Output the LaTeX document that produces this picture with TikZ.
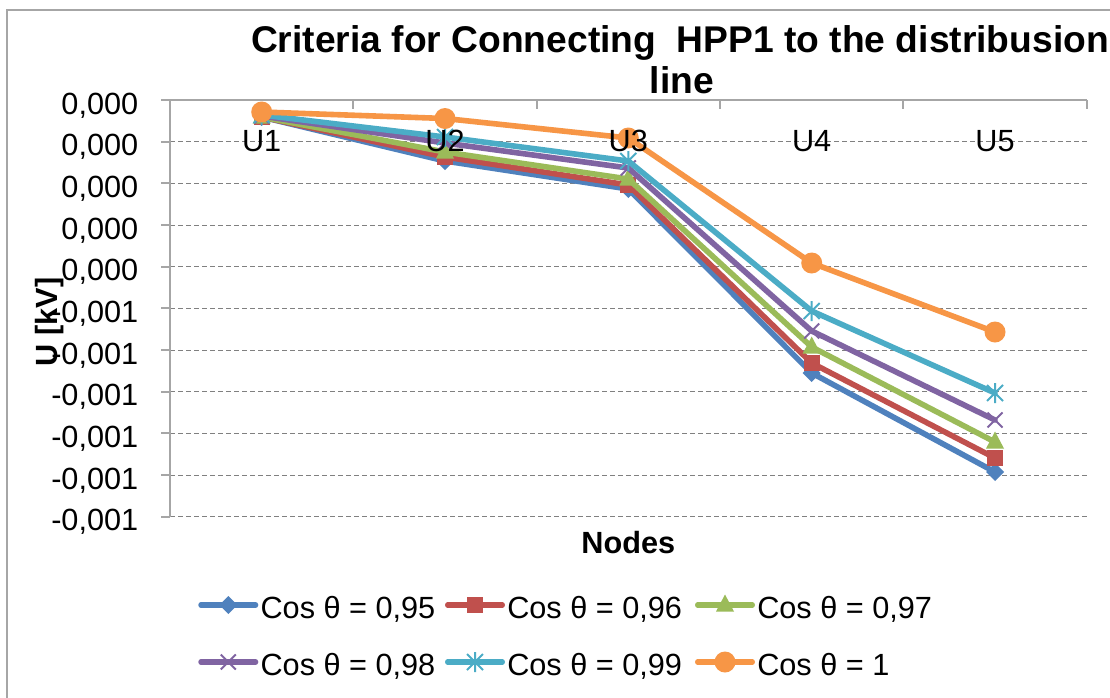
\documentclass[tikz,border=0pt]{standalone}
\usepackage{fontspec}
\setmainfont{Liberation Sans}
\definecolor{cA}{HTML}{4F81BD}
\definecolor{cB}{HTML}{C0504D}
\definecolor{cC}{HTML}{9BBB59}
\definecolor{cD}{HTML}{8064A2}
\definecolor{cE}{HTML}{4BACC6}
\definecolor{cF}{HTML}{F79646}
\definecolor{axisgray}{HTML}{A6A6A6}
\definecolor{gridgray}{HTML}{808080}
\tikzset{
  frame/.style={draw=axisgray, line width=1.5pt},
  axisline/.style={draw=axisgray, line width=1.5pt},
  gridline/.style={draw=gridgray, line width=0.75pt, dash pattern=on 4pt off 2pt},
  ticklab/.style={font=\fontsize{23}{27}\selectfont, inner sep=0pt},
  axtitle/.style={font=\fontsize{23}{27}\selectfont\bfseries, inner sep=0pt},
  titlef/.style={font=\fontsize{27.9}{33}\selectfont\bfseries, inner sep=0pt},
  ser/.style={line width=4.2pt, line join=round, line cap=round},
  legline/.style={line width=4pt, line cap=round},
  mdia/.pic={\fill[cA] (0,-9)--(9,0)--(0,9)--(-9,0)--cycle;},
  msq/.pic={\fill[cB] (-8,-8) rectangle (8,8);},
  mtri/.pic={\fill[cC] (0,-10.5)--(9,6.5)--(-9,6.5)--cycle;},
  mx/.pic={\draw[cD, line width=1.5pt] (-7.5,-7.5)--(7.5,7.5) (-7.5,7.5)--(7.5,-7.5);},
  mast/.pic={\draw[cE, line width=1.5pt] (-8,-8)--(8,8) (-8,8)--(8,-8) (0,-10)--(0,10);},
  mcirc/.pic={\fill[cF] (0,0) circle[radius=10.5];}
}
\begin{document}
\begin{tikzpicture}[x=0.75pt,y=-0.75pt]
\useasboundingbox (0,0) rectangle (1110,697);
\clip (0,0) rectangle (1110,697);
\path[fill=white] (0,0) rectangle (1110,697);
\draw[frame] (7,10) rectangle (1140,720);

% title
\node[titlef, anchor=base] (t1) at (680,52) {Criteria for Connecting\ \ HPP1 to the distribusion};
\node[titlef, anchor=base] (t2) at (682,93.3) {line};

% gridlines
\foreach \i in {1,...,10}
  \draw[gridline] (170,{100+41.667*\i}) -- (1086.7,{100+41.667*\i});

% axes
\draw[axisline] (170,516.7) -- (170,100) -- (1086.7,100);
\foreach \i in {0,...,10}
  \draw[axisline] (161,{100+41.667*\i}) -- (170,{100+41.667*\i});
\foreach \x in {353.3,536.7,720,903.3,1086.7}
  \draw[axisline] (\x,100) -- (\x,109);

% y tick labels
\foreach \i/\t in {0/{0,000},1/{0,000},2/{0,000},3/{0,000},4/{0,000},5/{-0,001},6/{-0,001},7/{-0,001},8/{-0,001},9/{-0,001},10/{-0,001}}
  \node[ticklab, anchor=base east] (yl\i) at (138.5,{114+41.667*\i}) {\t};

% data coordinates
\foreach \n/\x in {1/261.7,2/445,3/628.3,4/811.7,5/995}{
  \coordinate (xpos\n) at (\x,0);
}
\coordinate (a1) at (261.7,117); \coordinate (a2) at (445,161); \coordinate (a3) at (628.3,189); \coordinate (a4) at (811.7,373); \coordinate (a5) at (995,472);
\coordinate (b1) at (261.7,117); \coordinate (b2) at (445,157); \coordinate (b3) at (628.3,185); \coordinate (b4) at (811.7,363); \coordinate (b5) at (995,458);
\coordinate (c1) at (261.7,117); \coordinate (c2) at (445,152); \coordinate (c3) at (628.3,179); \coordinate (c4) at (811.7,347); \coordinate (c5) at (995,442);
\coordinate (d1) at (261.7,116); \coordinate (d2) at (445,143); \coordinate (d3) at (628.3,168); \coordinate (d4) at (811.7,331); \coordinate (d5) at (995,420);
\coordinate (e1) at (261.7,115); \coordinate (e2) at (445,137); \coordinate (e3) at (628.3,161); \coordinate (e4) at (811.7,311); \coordinate (e5) at (995,393);
\coordinate (f1) at (261.7,112); \coordinate (f2) at (445,118.5); \coordinate (f3) at (628.3,138); \coordinate (f4) at (811.7,263); \coordinate (f5) at (995,332);

\draw[ser, cA] (a1) -- (a2) -- (a3) -- (a4) -- (a5);
\foreach \p in {a1,a2,a3,a4,a5} \pic at (\p) {mdia};
\draw[ser, cB] (b1) -- (b2) -- (b3) -- (b4) -- (b5);
\foreach \p in {b1,b2,b3,b4,b5} \pic at (\p) {msq};
\draw[ser, cC] (c1) -- (c2) -- (c3) -- (c4) -- (c5);
\foreach \p in {c1,c2,c3,c4,c5} \pic at (\p) {mtri};
\draw[ser, cD] (d1) -- (d2) -- (d3) -- (d4) -- (d5);
\foreach \p in {d1,d2,d3,d4,d5} \pic at (\p) {mx};
\draw[ser, cE] (e1) -- (e2) -- (e3) -- (e4) -- (e5);
\foreach \p in {e1,e2,e3,e4,e5} \pic at (\p) {mast};
\draw[ser, cF] (f1) -- (f2) -- (f3) -- (f4) -- (f5);
\foreach \p in {f1,f2,f3,f4,f5} \pic at (\p) {mcirc};

% category labels
\foreach \n in {1,...,5}
  \node[ticklab, anchor=base] (cat\n) at ([yshift=-113.8pt]xpos\n) {U\n};

% axis titles
\node[axtitle, anchor=base] (xt) at (628.3,553.5) {Nodes};
\node[axtitle, anchor=base, rotate=90] (yt) at (57,322) {U [kV]};

% legend
\foreach \k/\mx/\my/\pc/\col/\lab in {
  1/228.3/605/mdia/cA/{0,95},
  2/475/605/msq/cB/{0,96},
  3/725/605/mtri/cC/{0,97},
  4/228.3/662/mx/cD/{0,98},
  5/475/662/mast/cE/{0,99},
  6/725/662/mcirc/cF/{1}}{
  \coordinate (lm\k) at (\mx,\my);
  \draw[legline, \col] ([xshift=-20.5pt]lm\k) -- ([xshift=20.5pt]lm\k);
  \pic at (lm\k) {\pc};
  \node[ticklab, anchor=base west] (lt\k) at ([xshift=24pt, yshift=-9.75pt]lm\k) {Cos θ = \lab};
}
\end{tikzpicture}
\end{document}
